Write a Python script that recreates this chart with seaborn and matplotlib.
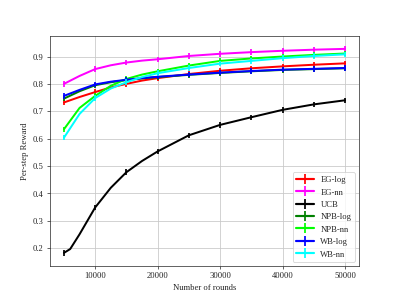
import numpy as np
import pandas as pd
import matplotlib
matplotlib.use("Agg")
import matplotlib.pyplot as plt
from matplotlib.lines import Line2D
import seaborn as sns

# data
rounds = [5000, 7500, 10000, 12500, 15000, 17500, 20000, 25000,
          30000, 35000, 40000, 45000, 50000]
ucb_rounds = [5000, 6000, 7500, 10000, 12500, 15000, 17500, 20000, 25000,
              30000, 35000, 40000, 45000, 50000]

eg_log = [0.732, 0.752, 0.770, 0.787, 0.800, 0.812, 0.821, 0.836,
          0.848, 0.857, 0.864, 0.870, 0.875]
eg_nn = [0.800, 0.829, 0.854, 0.868, 0.878, 0.885, 0.890, 0.902,
         0.910, 0.916, 0.921, 0.925, 0.928]
ucb = [0.182, 0.196, 0.250, 0.348, 0.420, 0.477, 0.518, 0.553, 0.612,
       0.650, 0.678, 0.705, 0.725, 0.740]
npb_log = [0.746, 0.773, 0.795, 0.806, 0.814, 0.820, 0.825, 0.833,
           0.840, 0.846, 0.851, 0.854, 0.857]
npb_nn = [0.634, 0.712, 0.756, 0.793, 0.818, 0.834, 0.846, 0.867,
          0.884, 0.893, 0.900, 0.906, 0.911]
wb_log = [0.756, 0.778, 0.798, 0.808, 0.815, 0.821, 0.826, 0.834,
          0.841, 0.847, 0.852, 0.855, 0.858]
wb_nn = [0.603, 0.690, 0.748, 0.783, 0.806, 0.825, 0.839, 0.858,
         0.874, 0.884, 0.894, 0.902, 0.908]

err = 0.01

series = [
    ("EG-log", rounds, eg_log, "#ff0000"),
    ("EG-nn", rounds, eg_nn, "#ff00ff"),
    ("UCB", ucb_rounds, ucb, "#000000"),
    ("NPB-log", rounds, npb_log, "#008000"),
    ("NPB-nn", rounds, npb_nn, "#00ff00"),
    ("WB-log", rounds, wb_log, "#0000ff"),
    ("WB-nn", rounds, wb_nn, "#00ffff"),
]

sns.set_style("ticks")
plt.rcParams["font.family"] = ["Liberation Serif", "DejaVu Serif"]
plt.rcParams["font.size"] = 10

fig, ax = plt.subplots(figsize=(6.4, 4.8), dpi=399 / 6.4)
ax.grid(True, color="#c8c8c8", lw=0.9)
ax.set_axisbelow(True)

handles = []
for name, xs, ys, color in series:
    df = pd.DataFrame({"rounds": xs, "reward": ys})
    sns.lineplot(data=df, x="rounds", y="reward", color=color, lw=2.3, ax=ax)
    mask = df["rounds"] % 5000 == 0
    ax.errorbar(df["rounds"][mask], df["reward"][mask], yerr=err,
                fmt="none", ecolor=color, elinewidth=2)
    handles.append(Line2D([], [], color=color, lw=2.5, marker="|",
                          markersize=11, mew=2, label=name))

ax.set_xlabel("Number of rounds")
ax.set_ylabel("Per-step Reward")
ax.set_xticks([10000, 20000, 30000, 40000, 50000])
ax.set_yticks([0.2, 0.3, 0.4, 0.5, 0.6, 0.7, 0.8, 0.9])
ax.set_yticklabels(["0.2", "0.3", "0.4", "0.5", "0.6", "0.7", "0.8", "0.9"])
for s in ax.spines.values():
    s.set_color("#222222")
ax.legend(handles=handles, loc="lower right", frameon=True)

fig.savefig("out.png")
